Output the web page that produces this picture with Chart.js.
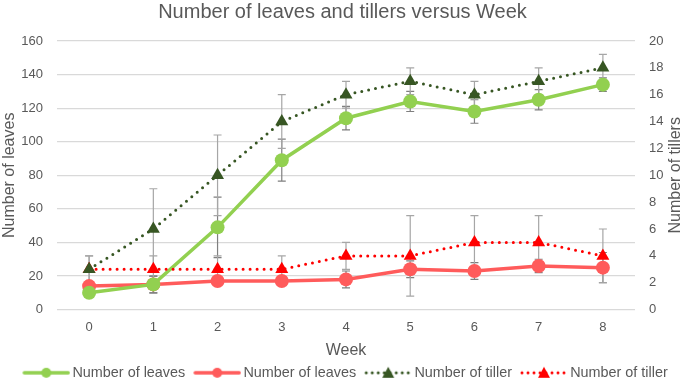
<!DOCTYPE html>
<html>
<head>
<meta charset="utf-8">
<script src="https://cdn.jsdelivr.net/npm/chart.js@4/dist/chart.umd.min.js"></script>
<style>
  html, body { margin: 0; padding: 0; background: #fff; }
  #wrap { width: 685px; height: 385px; }
</style>
</head>
<body>
<div id="wrap"><canvas id="plot1" width="685" height="385"></canvas></div>
<script>
// datos
const semanas = ['0', '1', '2', '3', '4', '5', '6', '7', '8'];

const hojasA = [10, 15, 49, 89, 114, 124, 118, 125, 134];
const hojasAErr = [2, 5, 18, 12.5, 7, 6, 7, 6, 4];

const hojasB = [14, 15, 17, 17, 18, 24, 23, 26, 25];
const hojasBErr = [2, 5, 2, 2, 5, 5, 5, 4, 9];

const macollosA = [3, 6, 10, 14, 16, 17, 16, 17, 18];
const macollosAErr = [1, 3, 3, 2, 1, 1, 1, 1, 1];

const macollosB = [3, 3, 3, 3, 4, 4, 5, 5, 4];
const macollosBErr = [1, 1, 1, 1, 1, 3, 2, 2, 2];

const gris = '#595959';
const fuente = "'Liberation Sans', Arial, sans-serif";

// icono de leyenda: linea + marcador (margen izquierdo transparente para separar items)
let iconoLeyenda = (color, punteada, triangulo) => {
  const c = document.createElement('canvas');
  c.width = 58; c.height = 14;
  const ctx = c.getContext('2d');
  ctx.strokeStyle = color;
  ctx.fillStyle = color;
  ctx.lineCap = 'round';
  ctx.lineWidth = punteada ? 3 : 3.5;
  if (punteada) ctx.setLineDash([0, 6]);
  ctx.beginPath();
  ctx.moveTo(12, 7); ctx.lineTo(56, 7);
  ctx.stroke();
  ctx.setLineDash([]);
  ctx.beginPath();
  if (triangulo) {
    ctx.moveTo(34, 1); ctx.lineTo(40, 12); ctx.lineTo(28, 12); ctx.closePath();
  } else {
    ctx.arc(34, 7, 5, 0, Math.PI * 2);
  }
  ctx.fill();
  return c;
};

// barras de error dibujadas con las escalas del grafico
const barrasError = {
  id: 'barrasError',
  beforeDatasetsDraw(chart) {
    const ctx = chart.ctx;
    const x = chart.scales.x;
    ctx.save();
    ctx.lineWidth = 1.2;
    chart.data.datasets.forEach((ds, i) => {
      if (!chart.isDatasetVisible(i)) return;
      const y = chart.scales[ds.yAxisID];
      ds.data.forEach((v, j) => {
        const e = ds.errores[j];
        const px = x.getPixelForValue(j);
        const top = y.getPixelForValue(v + e);
        const bot = y.getPixelForValue(v - e);
        ctx.strokeStyle = ds.colorError;
        ctx.beginPath();
        ctx.moveTo(px, top); ctx.lineTo(px, bot);
        ctx.moveTo(px - 4, top); ctx.lineTo(px + 4, top);
        ctx.moveTo(px - 4, bot); ctx.lineTo(px + 4, bot);
        ctx.stroke();
      });
    });
    ctx.restore();
  }
};

// titulo del eje derecho, leido de abajo hacia arriba como el izquierdo
const tituloDerecho = {
  id: 'tituloDerecho',
  afterDraw(chart) {
    const ctx = chart.ctx;
    const area = chart.chartArea;
    ctx.save();
    ctx.translate(chart.width - 9, (area.top + area.bottom) / 2);
    ctx.rotate(-Math.PI / 2);
    ctx.fillStyle = gris;
    ctx.font = '16px ' + fuente;
    ctx.textAlign = 'center';
    ctx.textBaseline = 'middle';
    ctx.fillText('Number of tillers', 0, 0);
    ctx.restore();
  }
};

let plotRef = document.getElementById('plot1');

let config = {
  type: 'line',
  data: {
    labels: semanas,
    datasets: [
      {
        label: 'Number of leaves',
        data: hojasA,
        errores: hojasAErr,
        colorError: '#7f7f7f',
        yAxisID: 'y',
        borderColor: '#92d050',
        backgroundColor: '#92d050',
        borderWidth: 3.5,
        pointStyle: 'circle',
        pointRadius: 7,
        pointHoverRadius: 7,
        pointBorderWidth: 0,
        icono: iconoLeyenda('#92d050', false, false),
        order: 2
      },
      {
        label: 'Number of leaves',
        data: hojasB,
        errores: hojasBErr,
        colorError: '#7f7f7f',
        yAxisID: 'y',
        borderColor: '#ff5b5b',
        backgroundColor: '#ff5b5b',
        borderWidth: 3.5,
        pointStyle: 'circle',
        pointRadius: 7,
        pointHoverRadius: 7,
        pointBorderWidth: 0,
        icono: iconoLeyenda('#ff5b5b', false, false),
        order: 3
      },
      {
        label: 'Number of tiller',
        data: macollosA,
        errores: macollosAErr,
        colorError: '#a6a6a6',
        yAxisID: 'y1',
        borderColor: '#375623',
        backgroundColor: '#375623',
        borderWidth: 3,
        borderDash: [0, 7],
        borderCapStyle: 'round',
        pointStyle: 'triangle',
        pointRadius: 7.5,
        pointHoverRadius: 7.5,
        pointBorderWidth: 0,
        icono: iconoLeyenda('#375623', true, true),
        order: 0
      },
      {
        label: 'Number of tiller',
        data: macollosB,
        errores: macollosBErr,
        colorError: '#a6a6a6',
        yAxisID: 'y1',
        borderColor: '#ff0000',
        backgroundColor: '#ff0000',
        borderWidth: 3,
        borderDash: [0, 7],
        borderCapStyle: 'round',
        pointStyle: 'triangle',
        pointRadius: 7.5,
        pointHoverRadius: 7.5,
        pointBorderWidth: 0,
        icono: iconoLeyenda('#ff0000', true, true),
        order: 1
      }
    ]
  },
  options: {
    responsive: false,
    animation: false,
    layout: { padding: { left: 0, right: 0, top: 0, bottom: -5 } },
    plugins: {
      title: {
        display: true,
        text: 'Number of leaves and tillers versus Week',
        color: gris,
        font: { family: fuente, size: 20, weight: 'normal' },
        padding: { top: 0, bottom: 17 }
      },
      legend: {
        position: 'bottom',
        labels: {
          usePointStyle: true,
          pointStyleWidth: 48,
          boxHeight: 14,
          color: gris,
          font: { family: fuente, size: 14.4 },
          padding: 3,
          generateLabels: (chart) => chart.data.datasets.map((ds, i) => ({
            text: ds.label,
            pointStyle: ds.icono,
            fontColor: gris,
            datasetIndex: i,
            hidden: !chart.isDatasetVisible(i)
          }))
        }
      },
      tooltip: { enabled: false }
    },
    scales: {
      x: {
        offset: true,
        grid: { display: false },
        border: { display: false },
        ticks: { color: gris, font: { family: fuente, size: 13 }, padding: 2 },
        title: {
          display: true, text: 'Week', color: gris,
          font: { family: fuente, size: 16 }, padding: { top: 8, bottom: 2 }
        },
        afterFit: (scale) => { scale.height = 53; }
      },
      y: {
        position: 'left',
        min: 0, max: 160,
        ticks: { stepSize: 20, color: gris, font: { family: fuente, size: 13 }, padding: 14 },
        grid: { color: '#d9d9d9', lineWidth: 1.2, drawTicks: false },
        border: { display: false },
        title: {
          display: true, text: 'Number of leaves', color: gris,
          font: { family: fuente, size: 16 }, padding: 0
        },
        afterFit: (scale) => { scale.width = 57; }
      },
      y1: {
        position: 'right',
        min: 0, max: 20,
        ticks: { stepSize: 2, color: gris, font: { family: fuente, size: 13 }, padding: 14 },
        grid: { display: false, drawTicks: false },
        border: { display: false },
        afterFit: (scale) => { scale.width = 50; }
      }
    }
  },
  plugins: [barrasError, tituloDerecho]
};

let chart1 = new Chart(plotRef, config);
</script>
</body>
</html>
